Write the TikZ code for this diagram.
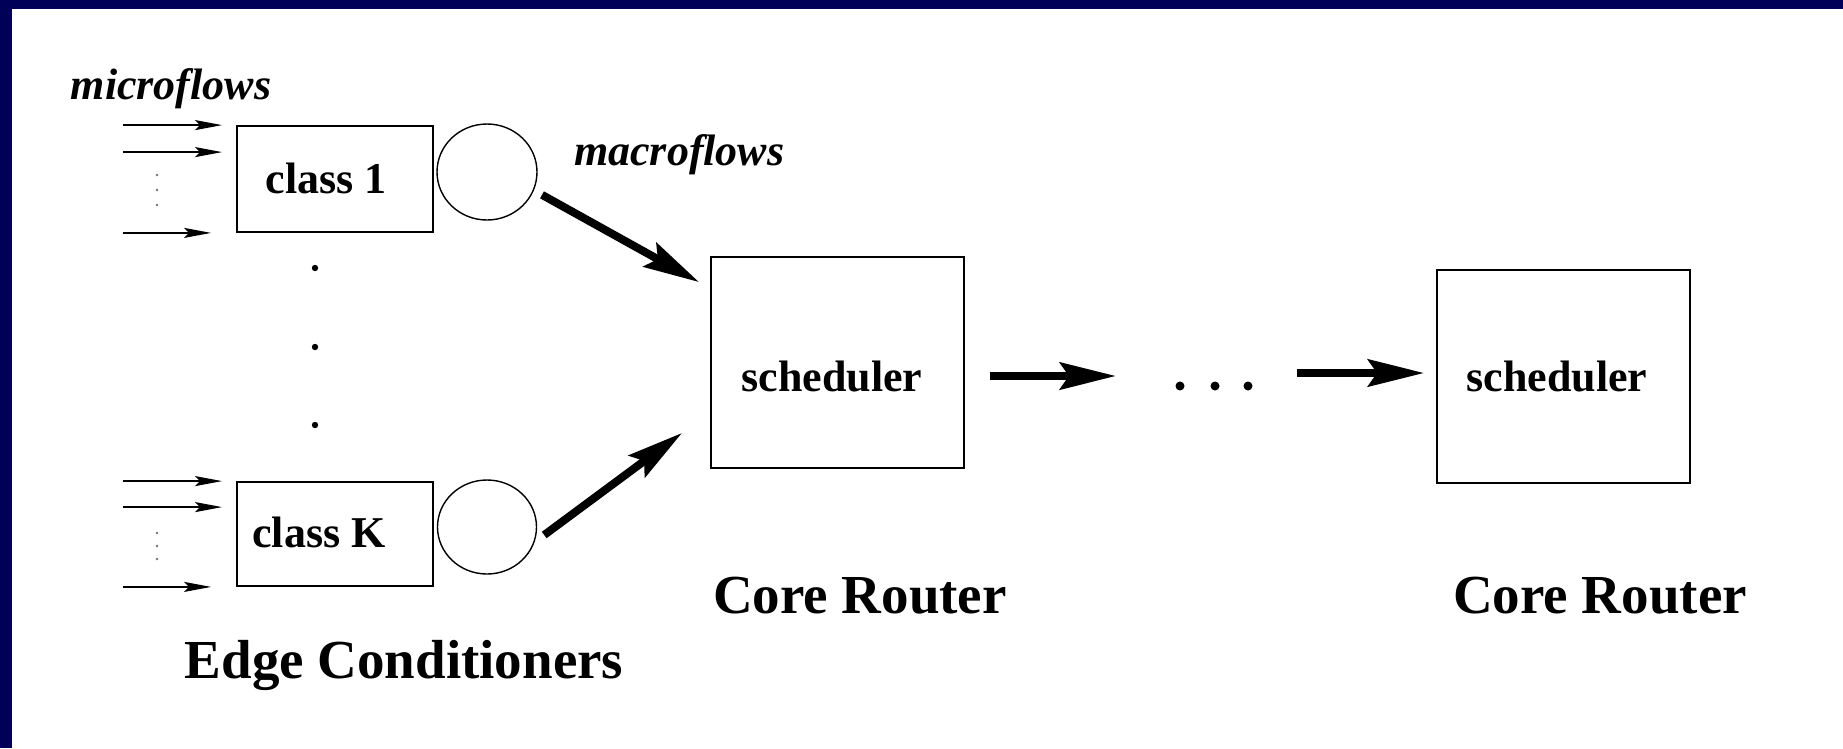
\documentclass[tikz,border=0pt]{standalone}
\usepackage{fontspec}
\setmainfont{Liberation Serif}
\usetikzlibrary{arrows.meta,shapes.geometric}
\definecolor{navy}{RGB}{0,0,88}
\begin{document}
\begin{tikzpicture}[x=1pt,y=-1pt,
  box/.style={draw, line width=1.8pt, rectangle, inner sep=0pt},
  queue/.style={draw, line width=1.4pt, ellipse, inner sep=0pt},
  flowarrow/.style={line width=1.8pt, -{Stealth[length=27pt,width=10pt,inset=5pt]}},
  bigarrow/.style={line width=8pt, -{Stealth[length=56pt,width=27pt,inset=9pt]}},
  smalltext/.style={font=\fontsize{44}{50}\selectfont\bfseries, inner sep=0pt, anchor=base},
  slanted/.style={font=\fontsize{44}{50}\selectfont\bfseries\itshape, inner sep=0pt},
  bigtext/.style={font=\fontsize{55}{62}\selectfont\bfseries, inner sep=0pt, anchor=base},
]
% page: white, with a dark band along the top and left edges
\useasboundingbox (0,0) rectangle (1843,748);
\fill[white] (0,0) rectangle (1843,748);
\fill[navy] (0,0) rectangle (1843,9);
\fill[navy] (0,0) rectangle (12,748);

% edge conditioners
\node[box, minimum width=196pt, minimum height=106pt] (c1) at (335,179) {};
\node[box, minimum width=196pt, minimum height=104pt] (cK) at (335,534) {};
\node[smalltext] (c1t) at (326,193) {class 1};
\node[smalltext] (cKt) at (319,547) {class K};
\node[queue, minimum width=100pt, minimum height=96pt] (q1) at (487,172) {};
\node[queue, minimum width=99pt, minimum height=94pt] (qK) at (487,527) {};

% core routers
\node[box, minimum width=253pt, minimum height=211pt] (s1) at (837.5,362.5) {};
\node[box, minimum width=253pt, minimum height=213pt] (s2) at (1563.5,376.5) {};
\node[smalltext] (s1t) at (832,391) {scheduler};
\node[smalltext] (s2t) at (1557,391) {scheduler};

% labels
\node[slanted, anchor=base] (micro) at (171,99) {microflows};
\node[slanted, anchor=base west] (macro) at (574,165) {macroflows};
\node[bigtext] (cr1) at (860,613) {Core Router};
\node[bigtext] (cr2) at (1600,613) {Core Router};
\node[bigtext] (edge) at (404,678) {Edge Conditioners};

% incoming microflows
\draw[flowarrow] ([xshift=-113pt]c1.north west) -- ([xshift=-14pt]c1.north west);
\draw[flowarrow] ([xshift=-113pt,yshift=-27pt]c1.north west) -- ([xshift=-14pt,yshift=-27pt]c1.north west);
\draw[flowarrow] ([xshift=-113pt]c1.south west) -- ([xshift=-25pt]c1.south west);
\draw[flowarrow] ([xshift=-113pt]cK.north west) -- ([xshift=-14pt]cK.north west);
\draw[flowarrow] ([xshift=-113pt,yshift=-26pt]cK.north west) -- ([xshift=-14pt,yshift=-26pt]cK.north west);
\draw[flowarrow] ([xshift=-113pt]cK.south west) -- ([xshift=-25pt]cK.south west);
\foreach \yy in {175,190,205,533,546,559} \fill[black!55] (157,\yy) circle (1.4pt);

% ellipsis between the classes
\foreach \yy in {268,347,425} \fill (315,\yy) circle (3.2pt);

% macroflows into the first scheduler
\draw[bigarrow] ([xshift=12pt,yshift=3pt]q1.-31) -- ([xshift=-11pt,yshift=-26pt]s1.north west);
\draw[bigarrow] ([xshift=7pt,yshift=-8pt]qK.east) -- ([xshift=-28pt,yshift=36pt]s1.south west);

% path through the core
\coordinate (gapL) at (1116,376);
\coordinate (gapR) at (1297,373);
\draw[bigarrow] ([xshift=25pt,yshift=-13.5pt]s1.east) -- (gapL);
\foreach \xx in {1180,1215,1248} \fill (\xx,386) circle (4.5pt);
\draw[bigarrow] (gapR) -- ([xshift=-12pt,yshift=3.5pt]s2.west);
\end{tikzpicture}
\end{document}
